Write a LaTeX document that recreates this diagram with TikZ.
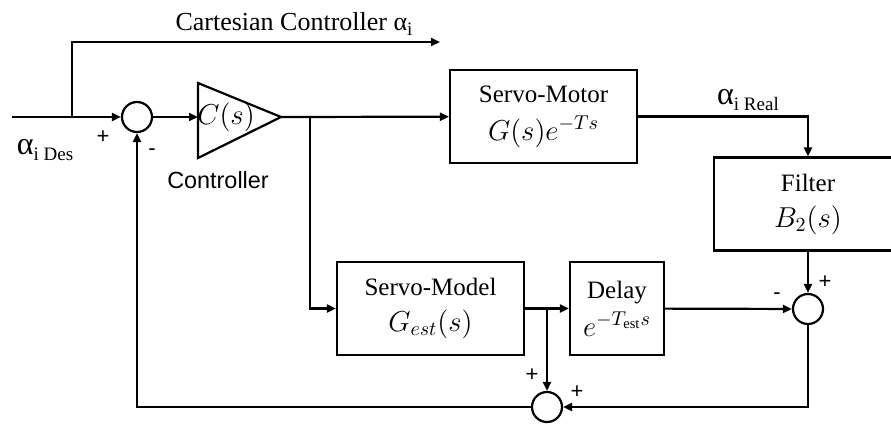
\documentclass[tikz,border=0pt]{standalone}
\usepackage{amsmath}
\usepackage{fontspec}
\setmainfont{Liberation Serif}
\setsansfont{Liberation Sans}
\usetikzlibrary{positioning,arrows.meta}
\newcommand{\eqsize}{\fontsize{14.5}{17}\selectfont}
\newcommand{\alphsub}[2][16]{{\fontsize{#1}{18}\selectfont α}\raisebox{-0.45ex}{\fontsize{9.5}{11}\selectfont #2}}

\begin{document}
\begin{tikzpicture}[x=0.5pt, y=-0.5pt, line width=1.1pt, >={Triangle[length=4.5pt,width=4pt]},
  font=\fontsize{12.5}{15}\selectfont,
  block/.style={draw, align=center, minimum height=46.5pt, inner sep=2pt},
  sumnode/.style={circle, draw, minimum size=15pt, inner sep=0pt},
  sign/.style={font=\sffamily\fontsize{11}{13}\selectfont, inner sep=0pt}]
\clip (0,0) rectangle (891,424);
% summing junctions
\node[sumnode] (S1) at (137,117) {};
\node[sumnode] (S3) at (808,309) {};
\node[sumnode] (S2) at (547,407) {};
% controller
\draw (198,83) -- (281,117) -- (198,158) -- cycle;
\coordinate (Cin) at (198,117);
\coordinate (Cout) at (281,117);
\node (Cs) at (226,117) {\eqsize $C(s)$};
\node[font=\sffamily\fontsize{11.7}{14}\selectfont] (Clab) at (218,180) {Controller};
% blocks
\node[block, minimum width=93.5pt] (Motor) at (543.5,116.5) {Servo-Motor\\[4pt] \eqsize $G(s)e^{-Ts}$};
\node[block, minimum width=94pt] (Filter) at (808,204) {Filter\\[3pt] \eqsize $B_2(s)$};
\node[block, minimum width=93.5pt] (Model) at (430.5,308.5) {Servo-Model\\[3pt] \eqsize $G_{est}(s)$};
\node[block, minimum width=47pt] (Delay) at (617,308.5) {Delay\\[4pt] \eqsize $e^{-T_{\text{est}}s}$};
% branch points
\coordinate (IN) at (12,117);
\coordinate (B0) at (72,117);
\coordinate (CC) at (440,42);
\coordinate (B1) at (310,117);
\coordinate (B2) at (547,308.5);
% labels
\node (Cart) at (294,24) {\fontsize{13}{15}\selectfont Cartesian Controller \alphsub[13]{i}};
\node (Des) at (45,150) {\alphsub{i Des}};
\node (Real) at (748,100) {\alphsub{i Real}};
\node[sign] at (103,137) {+};
\node[sign] at (152,152) {-};
\node[sign] at (825,282) {+};
\node[sign] at (777,296) {-};
\node[sign] at (532,375) {+};
\node[sign] at (577,392) {+};
% connectors
\draw[->] (IN) -- (S1);
\draw[->] (B0) |- (CC);
\draw[->] (S1) -- (Cin);
\draw[->] (Cout) -- (Motor);
\draw[->] (B1) |- (Model);
\draw[->] (Motor) -| (Filter);
\draw[->] (Filter) -- (S3);
\draw[->] (Model) -- (Delay);
\draw[->] (B2) -- (S2);
\draw[->] (Delay) -- (S3);
\draw[->] (S3) |- (S2);
\draw[->] (S2) -| (S1);
\end{tikzpicture}
\end{document}
